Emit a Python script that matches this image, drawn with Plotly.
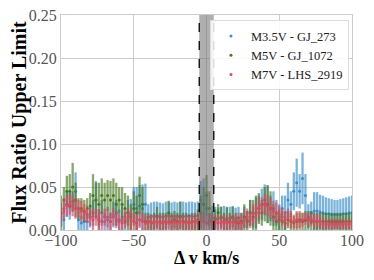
import plotly.graph_objects as go

velocity = list(range(-100, 101, 2))

blue_y = [0.018, 0.012, 0.030, 0.028, 0.033, 0.045, 0.012, 0.008, 0.010, 0.010,
          0.015, 0.020, 0.035, 0.012, 0.020, 0.010, 0.015, 0.010, 0.018, 0.020,
          0.012, 0.015, 0.010, 0.020, 0.018, 0.030, 0.025, 0.028, 0.025, 0.030,
          0.015, 0.016, 0.016, 0.017, 0.016, 0.015, 0.016, 0.017, 0.016, 0.016,
          0.016, 0.017, 0.016, 0.016, 0.017, 0.016, 0.016, 0.017, 0.035, 0.030,
          0.025, 0.010, 0.014, 0.014, 0.013, 0.014, 0.014, 0.013, 0.014, 0.014,
          0.013, 0.014, 0.010, 0.015, 0.012, 0.020, 0.015, 0.020, 0.025, 0.030,
          0.035, 0.030, 0.025, 0.025, 0.020, 0.015, 0.025, 0.020, 0.035, 0.030,
          0.045, 0.055, 0.045, 0.060, 0.040, 0.015, 0.020, 0.022, 0.022, 0.021,
          0.020, 0.019, 0.019, 0.018, 0.018, 0.018, 0.018, 0.019, 0.019, 0.020,
          0.020]
blue_err = [0.014, 0.012, 0.015, 0.016, 0.012, 0.022, 0.012, 0.008, 0.010, 0.010,
            0.012, 0.015, 0.022, 0.012, 0.015, 0.010, 0.012, 0.010, 0.015, 0.015,
            0.012, 0.015, 0.010, 0.015, 0.018, 0.020, 0.025, 0.024, 0.028, 0.024,
            0.015, 0.016, 0.017, 0.016, 0.016, 0.016, 0.017, 0.016, 0.016, 0.017,
            0.016, 0.016, 0.017, 0.016, 0.016, 0.017, 0.016, 0.016, 0.022, 0.030,
            0.020, 0.010, 0.014, 0.013, 0.013, 0.013, 0.014, 0.013, 0.013, 0.014,
            0.013, 0.013, 0.010, 0.012, 0.010, 0.015, 0.012, 0.018, 0.015, 0.018,
            0.018, 0.022, 0.015, 0.020, 0.015, 0.015, 0.015, 0.020, 0.020, 0.015,
            0.022, 0.028, 0.020, 0.030, 0.025, 0.015, 0.013, 0.022, 0.022, 0.020,
            0.020, 0.019, 0.018, 0.018, 0.017, 0.017, 0.018, 0.018, 0.019, 0.019,
            0.020]

green_y = [0.020, 0.035, 0.045, 0.045, 0.050, 0.035, 0.025, 0.025, 0.022, 0.025,
           0.028, 0.040, 0.035, 0.030, 0.040, 0.035, 0.040, 0.035, 0.040, 0.030,
           0.035, 0.030, 0.025, 0.020, 0.015, 0.025, 0.020, 0.040, 0.030, 0.010,
           0.010, 0.008, 0.010, 0.015, 0.010, 0.008, 0.010, 0.020, 0.010, 0.012,
           0.010, 0.015, 0.010, 0.010, 0.008, 0.010, 0.010, 0.012, 0.020, 0.030,
           0.040, 0.025, 0.010, 0.012, 0.020, 0.015, 0.010, 0.012, 0.010, 0.015,
           0.010, 0.008, 0.010, 0.015, 0.010, 0.020, 0.015, 0.020, 0.025, 0.020,
           0.030, 0.030, 0.025, 0.015, 0.010, 0.012, 0.010, 0.008, 0.012, 0.010,
           0.008, 0.010, 0.012, 0.010, 0.011, 0.012, 0.010, 0.010, 0.010, 0.010,
           0.010, 0.010, 0.010, 0.010, 0.010, 0.010, 0.010, 0.010, 0.010, 0.010,
           0.010]
green_err = [0.020, 0.015, 0.018, 0.020, 0.028, 0.020, 0.012, 0.012, 0.013, 0.012,
             0.015, 0.025, 0.020, 0.025, 0.020, 0.020, 0.018, 0.022, 0.020, 0.025,
             0.015, 0.020, 0.018, 0.020, 0.015, 0.020, 0.020, 0.022, 0.020, 0.010,
             0.010, 0.010, 0.010, 0.012, 0.010, 0.012, 0.010, 0.014, 0.010, 0.010,
             0.010, 0.018, 0.010, 0.010, 0.010, 0.010, 0.010, 0.012, 0.020, 0.020,
             0.024, 0.020, 0.012, 0.012, 0.010, 0.012, 0.010, 0.015, 0.010, 0.012,
             0.010, 0.008, 0.010, 0.015, 0.012, 0.015, 0.020, 0.020, 0.018, 0.015,
             0.020, 0.022, 0.020, 0.015, 0.010, 0.012, 0.012, 0.010, 0.010, 0.010,
             0.008, 0.010, 0.010, 0.010, 0.011, 0.010, 0.012, 0.010, 0.010, 0.010,
             0.010, 0.010, 0.010, 0.010, 0.010, 0.010, 0.010, 0.010, 0.010, 0.010,
             0.010]

red_y = [0.015, 0.025, 0.028, 0.030, 0.028, 0.025, 0.025, 0.022, 0.020, 0.018,
         0.015, 0.012, 0.015, 0.012, 0.010, 0.015, 0.012, 0.010, 0.015, 0.012,
         0.010, 0.008, 0.012, 0.015, 0.012, 0.010, 0.008, 0.012, 0.010, 0.008,
         0.010, 0.008, 0.010, 0.008, 0.009, 0.008, 0.010, 0.009, 0.008, 0.009,
         0.008, 0.010, 0.008, 0.009, 0.008, 0.009, 0.010, 0.008, 0.012, 0.010,
         0.008, 0.010, 0.009, 0.009, 0.008, 0.009, 0.008, 0.009, 0.008, 0.009,
         0.008, 0.010, 0.008, 0.012, 0.015, 0.012, 0.018, 0.020, 0.025, 0.028,
         0.030, 0.028, 0.025, 0.022, 0.020, 0.018, 0.015, 0.012, 0.015, 0.012,
         0.010, 0.012, 0.010, 0.012, 0.013, 0.012, 0.012, 0.010, 0.011, 0.010,
         0.007, 0.007, 0.007, 0.007, 0.007, 0.007, 0.007, 0.007, 0.007, 0.007,
         0.007]
red_err = [0.010, 0.012, 0.012, 0.012, 0.012, 0.012, 0.010, 0.012, 0.010, 0.010,
           0.010, 0.012, 0.010, 0.012, 0.010, 0.010, 0.012, 0.010, 0.010, 0.010,
           0.010, 0.008, 0.010, 0.010, 0.012, 0.010, 0.010, 0.010, 0.010, 0.008,
           0.008, 0.010, 0.008, 0.009, 0.009, 0.009, 0.008, 0.009, 0.009, 0.009,
           0.009, 0.008, 0.009, 0.008, 0.009, 0.009, 0.009, 0.009, 0.010, 0.010,
           0.008, 0.009, 0.009, 0.008, 0.009, 0.009, 0.009, 0.008, 0.009, 0.009,
           0.009, 0.010, 0.009, 0.010, 0.010, 0.010, 0.012, 0.012, 0.012, 0.010,
           0.012, 0.012, 0.012, 0.012, 0.012, 0.010, 0.010, 0.010, 0.010, 0.010,
           0.008, 0.010, 0.010, 0.008, 0.007, 0.008, 0.007, 0.008, 0.008, 0.008,
           0.006, 0.006, 0.006, 0.006, 0.006, 0.006, 0.006, 0.006, 0.006, 0.006,
           0.006]

series = [
    ("M3.5V - GJ_273", blue_y, blue_err, "#3a8cc8", "rgba(52,138,200,0.65)"),
    ("M5V - GJ_1072", green_y, green_err, "#467821", "rgba(70,120,33,0.65)"),
    ("M7V - LHS_2919", red_y, red_err, "#d94a62", "rgba(220,70,95,0.65)"),
]

fig = go.Figure()
for name, y, e, mcol, ecol in series:
    fig.add_trace(go.Scatter(
        x=velocity, y=y, mode="markers", name=name,
        marker=dict(color=mcol, size=3),
        error_y=dict(type="data", array=e, visible=True, color=ecol,
                     thickness=2.3, width=0),
    ))

band_lo, band_hi = -5, 5
fig.add_vrect(x0=band_lo, x1=band_hi, fillcolor="rgba(110,110,110,0.55)",
              line_width=0, layer="above")
for xv in (band_lo, band_hi):
    fig.add_vline(x=xv, line=dict(color="black", width=1.3, dash="dash"),
                  layer="above")

font_family = "Liberation Serif"
fig.update_layout(
    width=366, height=272,
    margin=dict(l=53, r=22, t=7, b=50, autoexpand=False),
    paper_bgcolor="white", plot_bgcolor="white",
    font=dict(family=font_family, size=16, color="#555555"),
    showlegend=True,
    legend=dict(x=0.512, y=0.975, xanchor="left", yanchor="top",
                bgcolor="rgba(255,255,255,0.85)", bordercolor="#dddddd",
                borderwidth=1, font=dict(size=12.5, color="#222222"),
                tracegroupgap=0, itemwidth=30),
    annotations=[dict(text="<b>\u0394 v km/s</b>", xref="paper", yref="paper",
                      x=0.5, y=-0.13, xanchor="center", yanchor="middle",
                      showarrow=False, font=dict(size=18, color="black"))],
)
fig.update_xaxes(
    range=[-100, 100], tickvals=[-100, -50, 0, 50, 100],
    ticktext=["\u2212100", "\u221250", "0", "50", "100"],
    showgrid=True, gridcolor="#cccccc", gridwidth=1, zeroline=False,
    showline=True, linecolor="#cccccc", mirror=True, ticks="",
    automargin=False, ticklabeloverflow="allow", ticklabelstandoff=-4,
)
fig.update_yaxes(
    range=[0, 0.25], tickvals=[0, 0.05, 0.10, 0.15, 0.20, 0.25],
    ticktext=["0.00", "0.05", "0.10", "0.15", "0.20", "0.25"],
    showgrid=True, gridcolor="#cccccc", gridwidth=1, zeroline=False,
    showline=True, linecolor="#cccccc", mirror=True, ticks="",
    automargin=True, ticklabeloverflow="allow",
    title=dict(text="<b>Flux Ratio Upper Limit</b>", font=dict(size=20, color="black"), standoff=4),
)

fig.write_html("out.html")
